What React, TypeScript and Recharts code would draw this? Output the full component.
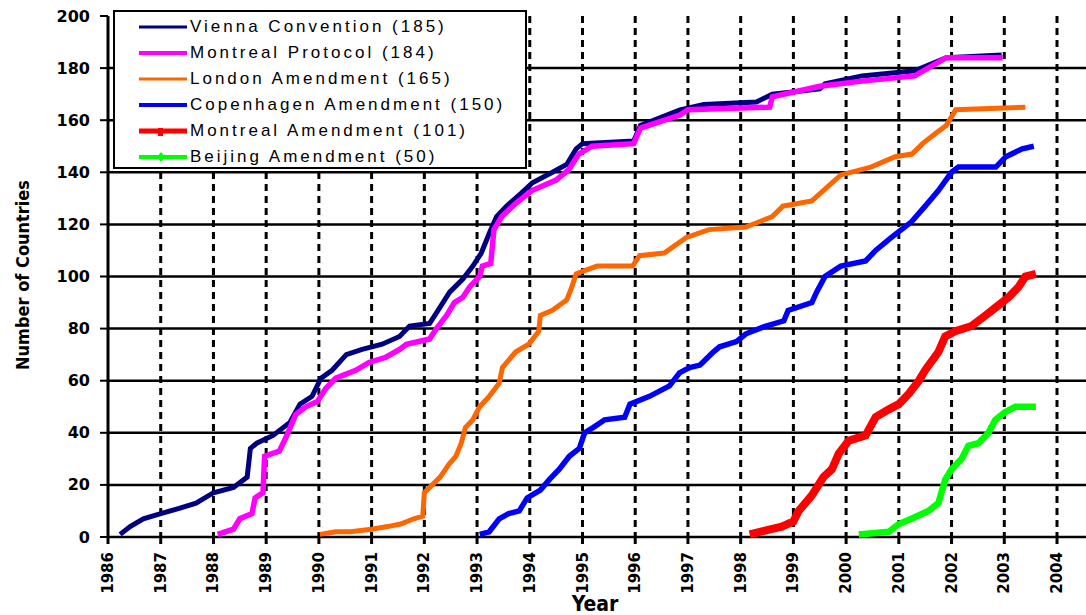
import { LineChart, Line, XAxis, YAxis, CartesianGrid } from 'recharts';

// [year, number of countries]
const vienna = [
  [1986.23, 1], [1986.42, 4], [1986.67, 7], [1987.0, 9], [1987.35, 11], [1987.67, 13], [1988.0, 17],
  [1988.38, 19], [1988.64, 23], [1988.7, 34], [1988.82, 36], [1989.13, 39], [1989.45, 44], [1989.64, 51],
  [1989.87, 54], [1990.04, 61], [1990.25, 64], [1990.52, 70], [1990.82, 72], [1991.2, 74], [1991.53, 77],
  [1991.72, 81], [1992.1, 82], [1992.23, 86], [1992.48, 94], [1992.73, 99], [1992.92, 104], [1993.08, 109],
  [1993.24, 117], [1993.37, 123], [1993.56, 127], [1993.84, 132], [1994.05, 136], [1994.43, 140],
  [1994.7, 143], [1994.88, 149], [1995.0, 151], [1995.97, 152], [1996.1, 158], [1996.85, 164],
  [1997.3, 166], [1998.3, 167], [1998.6, 170], [1999.5, 172], [1999.6, 174], [2000.3, 177],
  [2001.3, 179], [2001.9, 184], [2002.95, 185],
];

const montrealProtocol = [
  [1988.08, 1], [1988.38, 3], [1988.5, 7], [1988.73, 9], [1988.79, 15], [1988.94, 17], [1988.97, 31],
  [1989.25, 33], [1989.37, 38], [1989.56, 47], [1989.75, 50], [1989.97, 52], [1990.13, 57], [1990.32, 61],
  [1990.7, 64], [1990.95, 67], [1991.27, 69], [1991.53, 72], [1991.66, 74], [1992.1, 76], [1992.23, 80],
  [1992.42, 85], [1992.57, 90], [1992.73, 92], [1992.86, 96], [1993.05, 100], [1993.1, 104],
  [1993.26, 105], [1993.32, 118], [1993.47, 123], [1993.73, 128], [1994.04, 133], [1994.5, 137],
  [1994.74, 141], [1994.93, 147], [1995.18, 150], [1995.97, 151], [1996.1, 157], [1996.85, 162],
  [1997.0, 164], [1998.55, 165], [1998.6, 169], [1999.5, 173], [2000.3, 175], [2001.3, 177],
  [2001.9, 184], [2002.97, 184],
];

const london = [
  [1990.02, 1], [1990.32, 2], [1990.6, 2], [1991.0, 3], [1991.3, 4], [1991.55, 5], [1991.8, 7],
  [1991.97, 8], [1992.0, 17], [1992.15, 20], [1992.3, 23], [1992.47, 28], [1992.6, 31], [1992.7, 36],
  [1992.78, 42], [1992.92, 45], [1993.05, 50], [1993.23, 54], [1993.42, 59], [1993.48, 65],
  [1993.73, 71], [1993.98, 74], [1994.17, 79], [1994.2, 85], [1994.43, 87], [1994.7, 91], [1994.78, 95],
  [1994.88, 101], [1995.0, 102], [1995.28, 104], [1995.95, 104], [1996.08, 108], [1996.55, 109],
  [1996.97, 115], [1997.4, 118], [1998.1, 119], [1998.6, 123], [1998.8, 127], [1999.35, 129],
  [1999.9, 139], [2000.47, 142], [2000.93, 146], [2001.25, 147], [2001.45, 151], [2001.7, 155],
  [2001.9, 158], [2002.08, 164], [2003.4, 165],
];

const copenhagen = [
  [1993.05, 1], [1993.23, 2], [1993.42, 7], [1993.6, 9], [1993.8, 10], [1993.95, 15], [1994.2, 18],
  [1994.37, 22], [1994.56, 26], [1994.75, 31], [1994.94, 34], [1995.04, 40], [1995.2, 42], [1995.42, 45],
  [1995.8, 46], [1995.9, 51], [1996.27, 54], [1996.65, 58], [1996.84, 63], [1997.03, 65], [1997.23, 66],
  [1997.48, 71], [1997.6, 73], [1997.92, 75], [1998.1, 78], [1998.48, 81], [1998.82, 83], [1998.9, 87],
  [1999.35, 90], [1999.44, 94], [1999.6, 100], [1999.9, 104], [2000.37, 106], [2000.56, 110],
  [2000.86, 115], [2001.24, 121], [2001.5, 127], [2001.75, 133], [2002.0, 140], [2002.13, 142],
  [2002.84, 142], [2003.03, 146], [2003.34, 149], [2003.56, 150],
];

const montrealAmendment = [
  [1998.17, 1], [1998.58, 3], [1998.78, 4], [1999.0, 6], [1999.1, 10], [1999.35, 16], [1999.57, 23],
  [1999.73, 26], [1999.86, 32], [2000.05, 37], [2000.37, 39], [2000.56, 46], [2000.81, 49], [2001.0, 51],
  [2001.19, 55], [2001.38, 60], [2001.5, 64], [2001.75, 71], [2001.88, 77], [2002.07, 79], [2002.38, 81],
  [2002.64, 85], [2002.83, 88], [2003.08, 92], [2003.27, 96], [2003.4, 100], [2003.6, 101],
];

const beijing = [
  [2000.24, 1], [2000.81, 2], [2001.0, 5], [2001.24, 7], [2001.56, 10], [2001.75, 13], [2001.88, 22],
  [2002.0, 26], [2002.19, 30], [2002.32, 35], [2002.51, 36], [2002.7, 40], [2002.83, 45], [2003.02, 48],
  [2003.21, 50], [2003.6, 50],
];

const yearTicks = [1986, 1987, 1988, 1989, 1990, 1991, 1992, 1993, 1994, 1995, 1996, 1997, 1998, 1999, 2000, 2001, 2002, 2003, 2004];
const countTicks = [0, 20, 40, 60, 80, 100, 120, 140, 160, 180, 200];
const gridCounts = [0, 20, 40, 60, 80, 100, 120, 140, 160, 180];
const gridYears = [1987, 1988, 1989, 1990, 1991, 1992, 1993, 1994, 1995, 1996, 1997, 1998, 1999, 2000, 2001, 2002, 2003, 2004];

const seriesNames = [
  'Vienna Convention (185)',
  'Montreal Protocol (184)',
  'London Amendment (165)',
  'Copenhagen Amendment (150)',
  'Montreal Amendment (101)',
  'Beijing Amendment (50)',
];
const seriesPoints = [vienna, montrealProtocol, london, copenhagen, montrealAmendment, beijing];

const styles = [
  { color: '#000080', width: 5, legendWidth: 3, marker: null },
  { color: '#ff00ff', width: 5.5, legendWidth: 4, marker: null },
  { color: '#ff6600', width: 5, legendWidth: 3, marker: null },
  { color: '#0000ff', width: 5.5, legendWidth: 4, marker: null },
  { color: '#ff0000', width: 8, legendWidth: 5, marker: 'square' },
  { color: '#00ff00', width: 6.5, legendWidth: 4, marker: 'diamond' },
];

const series = seriesNames.map((name, i) => ({
  name,
  data: seriesPoints[i].map(([year, count]) => ({ year, count })),
  ...styles[i],
}));

const FONT = '"DejaVu Sans", Arial, sans-serif';
const TITLE_FONT = '"DejaVu Sans Condensed", "DejaVu Sans", Arial, sans-serif';

const YearTick = (props: any) => {
  const { x, y, payload } = props;
  return (
    <text
      x={x}
      y={y + 6}
      transform={`rotate(-90 ${x} ${y + 6})`}
      textAnchor="end"
      dominantBaseline="central"
      fontFamily={FONT}
      fontWeight="bold"
      fontSize={15}
      fill="#000"
    >
      {payload.value}
    </text>
  );
};

const CountTick = (props: any) => {
  const { x, y, payload } = props;
  return (
    <text x={x - 8} y={y} textAnchor="end" dominantBaseline="central" fontFamily={FONT} fontWeight="bold" fontSize={16} fill="#000">
      {payload.value}
    </text>
  );
};

const LegendBox = () => (
  <div
    style={{
      position: 'absolute',
      left: 113,
      top: 10,
      width: 410,
      height: 153,
      border: '2px solid #000',
      background: '#fff',
      boxSizing: 'content-box',
      paddingTop: 2,
    }}
  >
    {series.map((s) => (
      <div key={s.name} style={{ display: 'flex', alignItems: 'center', height: 26 }}>
        <svg width={75} height={26} style={{ flex: 'none' }}>
          <line x1={24} x2={72} y1={13} y2={13} stroke={s.color} strokeWidth={s.legendWidth} />
          {s.marker === 'square' && <rect x={43} y={10} width={5} height={8} fill={s.color} />}
          {s.marker === 'diamond' && <polygon points="46,8 50,13 46,18 42,13" fill={s.color} />}
        </svg>
        <span
          style={{
            fontFamily: '"Liberation Sans", Arial, sans-serif',
            fontSize: 17,
            letterSpacing: 3,
            color: '#000',
            whiteSpace: 'nowrap',
          }}
        >
          {s.name}
        </span>
      </div>
    ))}
  </div>
);

export default function App() {
  return (
    <div style={{ position: 'absolute', left: 0, top: 0, width: 1086, height: 615, overflow: 'hidden', background: '#fff' }}>
      <LineChart width={1086} height={615} margin={{ top: 16, right: 0, bottom: 8, left: 8 }}>
        <CartesianGrid horizontal={true} vertical={false} horizontalValues={gridCounts} stroke="#000" strokeWidth={2.5} />
        <CartesianGrid horizontal={false} vertical={true} verticalValues={gridYears} stroke="#000" strokeWidth={3} strokeDasharray="7 5" />
        <XAxis
          type="number"
          dataKey="year"
          domain={[1986, 2004.55]}
          ticks={yearTicks}
          allowDataOverflow
          axisLine={false}
          tickLine={{ stroke: '#000', strokeWidth: 3 }}
          tickSize={7}
          tick={<YearTick />}
          height={70}
          interval={0}
          label={{
            content: () => (
              <text x={595} y={604} textAnchor="middle" dominantBaseline="central" fontFamily={TITLE_FONT} fontWeight="bold" fontSize={21} fill="#000">
                Year
              </text>
            ),
          }}
        />
        <YAxis
          type="number"
          domain={[0, 200]}
          ticks={countTicks}
          interval={0}
          width={100}
          axisLine={{ stroke: '#000', strokeWidth: 3 }}
          tickLine={{ stroke: '#000', strokeWidth: 2 }}
          tickSize={8}
          tick={<CountTick />}
          label={{
            content: () => (
              <text
                x={22}
                y={275}
                transform="rotate(-90 22 275)"
                textAnchor="middle"
                dominantBaseline="central"
                fontFamily={TITLE_FONT}
                fontWeight="bold"
                fontSize={18}
                fill="#000"
              >
                Number of Countries
              </text>
            ),
          }}
        />
        {series.map((s) => (
          <Line
            key={s.name}
            data={s.data}
            dataKey="count"
            name={s.name}
            type="linear"
            stroke={s.color}
            strokeWidth={s.width}
            dot={false}
            activeDot={false}
            isAnimationActive={false}
          />
        ))}
      </LineChart>
      <LegendBox />
    </div>
  );
}
